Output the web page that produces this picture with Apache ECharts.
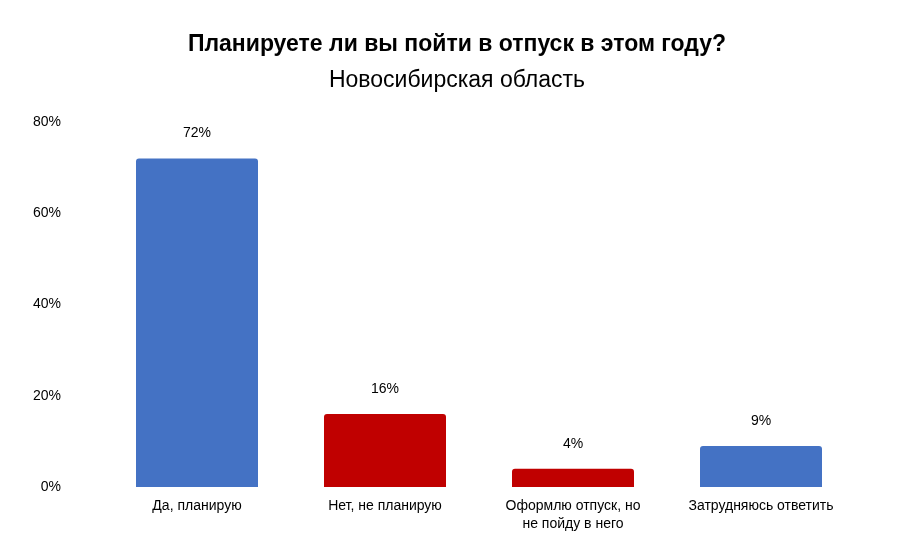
<!DOCTYPE html>
<html>
<head>
<meta charset="utf-8">
<script src="https://cdn.jsdelivr.net/npm/echarts@6/dist/echarts.min.js"></script>
<style>
html, body { margin: 0; padding: 0; background: #fff; }
#chart { width: 914px; height: 560px; }
</style>
</head>
<body>
<div id="chart"></div>
<script>
var categories = ["Да, планирую", "Нет, не планирую", "Оформлю отпуск, но\nне пойду в него", "Затрудняюсь ответить"];
var values = [72, 16, 4, 9];
var barColors = ["#4472C4", "#C00000", "#C00000", "#4472C4"];
var yTicks = [0, 20, 40, 60, 80];

var chart = echarts.init(document.getElementById("chart"));
chart.setOption({
	animation: false,
	textStyle: { fontFamily: "Liberation Sans, Arial, sans-serif" },
	title: [{
		text: "Планируете ли вы пойти в отпуск в этом году?",
		left: "center",
		top: 28,
		textStyle: { fontSize: 23, fontWeight: "bold", color: "#000" }
	}, {
		text: "Новосибирская область",
		left: "center",
		top: 64,
		textStyle: { fontSize: 23, fontWeight: "normal", color: "#000" }
	}],
	grid: { left: 103, right: 59, top: 122, bottom: 73 },
	xAxis: {
		type: "category",
		data: categories,
		axisLine: { show: false },
		axisTick: { show: false },
		axisLabel: { color: "#000", fontSize: 14, margin: 10, interval: 0, lineHeight: 18 }
	},
	yAxis: {
		type: "value",
		min: yTicks[0],
		max: yTicks[yTicks.length - 1],
		interval: 20,
		splitLine: { show: false },
		axisLabel: { color: "#000", fontSize: 14, formatter: "{value}%", margin: 42 }
	},
	series: [{
		type: "bar",
		barWidth: 122,
		data: values.map(function (v, i) {
			return { value: v, itemStyle: { color: barColors[i], borderRadius: [3, 3, 0, 0] } };
		}),
		label: {
			show: true,
			position: "top",
			distance: 18,
			color: "#000",
			fontSize: 14,
			formatter: "{c}%"
		}
	}]
});
</script>
</body>
</html>
